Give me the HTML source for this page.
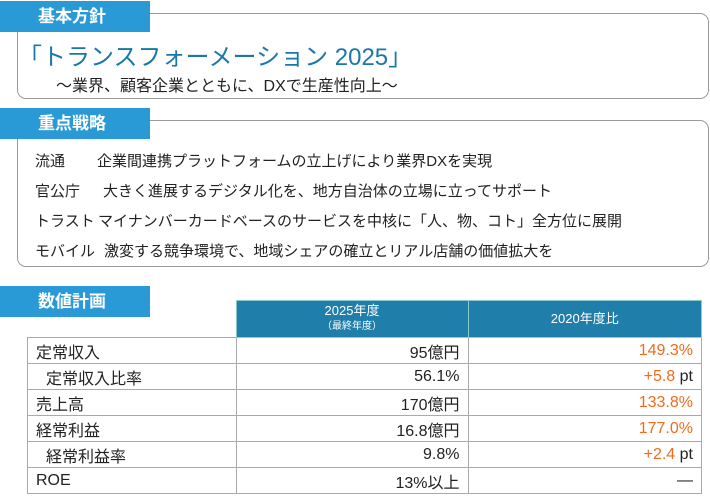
<!DOCTYPE html>
<html><head><meta charset="utf-8"><style>
body{margin:0;width:710px;height:499px;background:#fff;font-family:"Liberation Sans","Noto Sans CJK JP",sans-serif;position:relative;overflow:hidden;color:#222}
.abs{position:absolute}
.box{position:absolute;left:17px;width:690px;border:1px solid #9a9a9a;border-radius:9px;background:#fff}
.tab{position:absolute;left:0;width:150px;height:31px;background:#2a9ad6;color:#fff;font-size:17px;font-weight:bold;line-height:31px;padding-left:38px;box-sizing:border-box}
.row{position:absolute;font-size:15px;white-space:nowrap}
table{position:absolute;border-collapse:collapse;font-size:16px}
td{border:1px solid #aaa;height:25px;padding:0 8px;white-space:nowrap}
.h{background:#1f7eaa;color:#fff;text-align:center;border:1px solid #8cc;font-size:13px;line-height:14px}
.r{text-align:right}
.o{color:#f26a1b}
</style></head><body>
<div class="box" style="top:13px;height:84px"></div>
<div class="tab" style="top:1px">基本方針</div>
<div class="abs" style="left:18px;top:37px;font-size:24px;color:#1a78a8">「トランスフォーメーション 2025」</div>
<div class="abs" style="left:56px;top:72px;font-size:16px">～業界、顧客企業とともに、DXで生産性向上～</div>

<div class="box" style="top:120px;height:145px"></div>
<div class="tab" style="top:108px">重点戦略</div>
<div class="row" style="left:35px;top:150px">流通<span style="position:absolute;left:62px">企業間連携プラットフォームの立上げにより業界DXを実現</span></div>
<div class="row" style="left:35px;top:180px">官公庁<span style="position:absolute;left:68px">大きく進展するデジタル化を、地方自治体の立場に立ってサポート</span></div>
<div class="row" style="left:35px;top:210px">トラスト<span style="position:absolute;left:63px">マイナンバーカードベースのサービスを中核に「人、物、コト」全方位に展開</span></div>
<div class="row" style="left:35px;top:240px">モバイル<span style="position:absolute;left:69px">激変する競争環境で、地域シェアの確立とリアル店舗の価値拡大を</span></div>

<div class="tab" style="top:286px">数値計画</div>
<table style="left:27px;top:300px;width:675px">
<tr style="height:37px"><td style="border:none;width:192px"></td><td class="h" style="width:215px">2025年度<br><span style="font-size:10px">（最終年度）</span></td><td class="h">2020年度比</td></tr>
<tr><td>定常収入</td><td class="r">95億円</td><td class="r o">149.3%</td></tr>
<tr><td style="padding-left:18px">定常収入比率</td><td class="r">56.1%</td><td class="r"><span class="o">+5.8</span> pt</td></tr>
<tr><td>売上高</td><td class="r">170億円</td><td class="r o">133.8%</td></tr>
<tr><td>経常利益</td><td class="r">16.8億円</td><td class="r o">177.0%</td></tr>
<tr><td style="padding-left:18px">経常利益率</td><td class="r">9.8%</td><td class="r"><span class="o">+2.4</span> pt</td></tr>
<tr><td>ROE</td><td class="r">13%以上</td><td class="r">―</td></tr>
</table>
</body></html>
